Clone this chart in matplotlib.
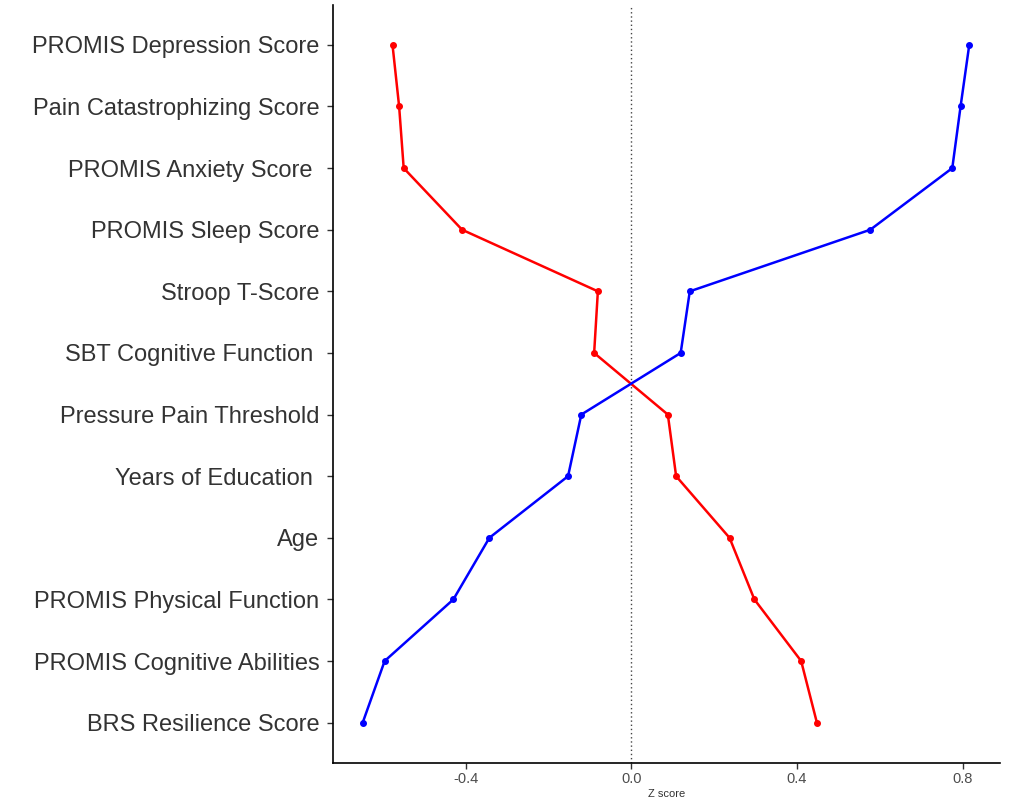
# Z-score profile of the two groups
import numpy as np
import matplotlib.pyplot as plt

measures = ['PROMIS Depression Score', 'Pain Catastrophizing Score', 'PROMIS Anxiety Score ',
            'PROMIS Sleep Score', 'Stroop T-Score', 'SBT Cognitive Function ',
            'Pressure Pain Threshold', 'Years of Education ', 'Age',
            'PROMIS Physical Function', 'PROMIS Cognitive Abilities', 'BRS Resilience Score']
red_z = [-0.577, -0.561, -0.550, -0.409, -0.081, -0.090,
         0.088, 0.108, 0.237, 0.297, 0.410, 0.448]
blue_z = [0.816, 0.795, 0.775, 0.577, 0.141, 0.119,
          -0.121, -0.153, -0.343, -0.430, -0.596, -0.649]
xticks = [-0.4, 0.0, 0.4, 0.8]

plt.rcParams['font.family'] = ['Liberation Sans', 'DejaVu Sans']

fig = plt.figure(figsize=(10.1, 8.02), dpi=100)
ax = fig.add_axes([0.33, 0.049, 0.66, 0.945])

y = np.arange(len(measures))[::-1]
ax.axvline(0, color='#444444', linestyle=(0, (1, 2)), linewidth=1.0, zorder=1)
ax.plot(red_z, y, color='red', linewidth=1.8, marker='o', markersize=4, zorder=3)
ax.plot(blue_z, y, color='blue', linewidth=1.8, marker='o', markersize=4, zorder=3)

ax.set_yticks(y)
ax.set_yticklabels(measures, fontsize=17, color='#333333')
ax.set_xticks(xticks)
ax.set_xticklabels(['-0.4', '0.0', '0.4', '0.8'], fontsize=10.5, color='#4d4d4d')
ax.set_xlabel('Z score', fontsize=8, color='#333333', labelpad=2)
ax.set_xlim(-0.72, 0.89)
ax.set_ylim(-0.65, len(measures) - 1 + 0.65)

for s in ['top', 'right']:
    ax.spines[s].set_visible(False)
for s in ['left', 'bottom']:
    ax.spines[s].set_linewidth(1.2)
ax.tick_params(axis='both', length=4, width=1, color='#333333')
ax.tick_params(axis='y', pad=6)
ax.tick_params(axis='x', pad=3)

plt.savefig('out.png', dpi=100)
